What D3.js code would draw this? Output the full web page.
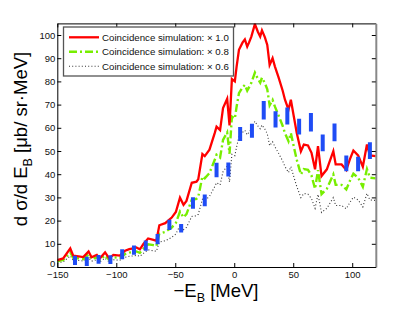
<!DOCTYPE html>
<html>
<head>
<meta charset="utf-8">
<script src="https://cdn.jsdelivr.net/npm/d3@7"></script>
<style>
  html, body { margin: 0; padding: 0; background: #fff; }
  svg { display: block; font-family: "Liberation Sans", Arial, sans-serif; }
</style>
</head>
<body>
<div id="chart"></div>
<script>
// Simulation curves (MeV, µb/sr·MeV)
const energy = [-150, -145, -139, -136.5, -132, -128, -123.5, -121, -116.5, -114,
  -109.5, -106, -102.5, -97, -92.5, -89, -85.5, -83, -80, -77,
  -73, -68.5, -66, -63.5, -58.5, -53, -49.5, -46, -43, -40.5,
  -36, -32, -30.5, -27, -25, -21, -16.5, -15, -12, -9.5,
  -6, -4, -2, 0.5, 2, 4, 7, 9, 11, 12.5,
  14.5, 17.5, 20, 22, 23.5, 26, 28, 30, 32.5, 34.5,
  37.5, 41, 43, 46, 48, 50.5, 53, 56.5, 59, 62.5,
  65.5, 68.5, 71, 74, 78.5, 84, 86, 91, 95, 98,
  101, 105, 109, 112.5, 115, 120];

const sim10 = [3.0, 3.7, 8.0, 4.9, 4.6, 4.3, 6.7, 4.2, 5.2, 3.7,
  6.3, 3.7, 5.2, 4.9, 7.0, 7.7, 8.0, 8.4, 7.6, 9.9,
  12.3, 11.7, 11.3, 18.0, 18.9, 21.3, 23.7, 29.9, 26.8, 28.5,
  36.3, 36.8, 37.8, 48.7, 47.8, 50.6, 57.8, 60.5, 59.0, 68.5,
  72.5, 61.0, 81.0, 80.0, 86.4, 93.6, 96.7, 98.1, 95.0, 96.7,
  99.3, 104.7, 101.4, 99.3, 102.0, 99.0, 95.7, 87.1, 90.0, 86.4,
  81.8, 76.1, 72.1, 67.8, 72.1, 64.9, 57.8, 49.9, 52.8, 52.4,
  49.2, 42.1, 52.1, 39.2, 42.1, 49.9, 44.2, 44.2, 41.8, 46.4,
  50.2, 48.1, 43.2, 52.8, 48.1, 47.8];

const sim08 = [2.4, 3.0, 6.4, 3.9, 3.7, 3.4, 5.4, 3.4, 4.2, 3.0,
  5.0, 3.0, 4.2, 3.9, 5.6, 6.2, 6.4, 6.7, 6.1, 7.9,
  9.8, 9.4, 9.0, 14.4, 15.1, 17.0, 19.0, 23.9, 21.4, 22.8,
  29.0, 29.4, 30.2, 39.0, 38.2, 40.5, 46.2, 48.4, 47.2, 54.8,
  58.0, 48.8, 64.8, 64.0, 69.1, 74.9, 77.4, 78.5, 76.0, 77.4,
  79.4, 83.8, 81.1, 79.4, 81.6, 79.2, 76.6, 69.7, 72.0, 69.1,
  65.4, 60.9, 57.7, 54.2, 57.7, 51.9, 46.2, 39.9, 42.2, 41.9,
  39.4, 33.7, 41.7, 31.4, 33.7, 39.9, 35.4, 35.4, 33.4, 37.1,
  40.2, 38.5, 34.6, 42.2, 38.5, 38.2];

const sim06 = [1.8, 2.2, 4.8, 2.9, 2.8, 2.6, 4.0, 2.5, 3.1, 2.2,
  3.8, 2.2, 3.1, 2.9, 4.2, 4.6, 4.8, 5.0, 4.6, 5.9,
  7.4, 7.0, 6.8, 10.8, 11.3, 12.8, 14.2, 17.9, 16.1, 17.1,
  21.8, 22.1, 22.7, 29.2, 28.7, 30.4, 34.7, 36.3, 35.4, 41.1,
  43.5, 36.6, 48.6, 48.0, 51.8, 56.2, 58.0, 58.9, 57.0, 58.0,
  59.6, 62.8, 60.8, 59.6, 61.2, 59.4, 57.4, 52.3, 54.0, 51.8,
  49.1, 45.7, 43.3, 40.7, 43.3, 38.9, 34.7, 29.9, 31.7, 31.4,
  29.5, 25.3, 31.3, 23.5, 25.3, 29.9, 26.5, 26.5, 25.1, 27.8,
  30.1, 28.9, 25.9, 31.7, 28.9, 28.7];

// Measured points with errors
const dataE = [-135, -125, -115, -105, -95, -85, -75, -65, -55, -45, -35, -25, -15,
  -5, 5, 15, 25, 35, 45, 55, 65, 75, 85, 95, 105, 115];
const dataVal = [2.9, 2.4, 3.3, 3.2, 5.5, 7.3, 9.2, 12.0, 18.2, 16.7, 27.6, 28.7, 41.8,
  42.0, 57.3, 58.7, 67.6, 63.6, 65.1, 60.5, 62.4, 53.5, 58.0, 44.7, 44.4, 50.2];
const dataErr = [2.0, 2.0, 1.9, 1.9, 2.2, 2.0, 2.2, 2.2, 2.2, 1.8, 2.5, 2.5, 3.1,
  3.0, 3.0, 3.0, 4.0, 3.5, 3.7, 3.4, 4.0, 3.6, 3.8, 3.4, 3.1, 3.6];

const xTicks = [-150, -100, -50, 0, 50, 100];
const yTicks = [0, 10, 20, 30, 40, 50, 60, 70, 80, 90, 100];
const legendLabels = ["Coincidence simulation: × 1.0", "Coincidence simulation: × 0.8", "Coincidence simulation: × 0.6"];

const width = 415;
const height = 313;
const margin = { top: 23.4, right: 39.2, bottom: 46, left: 57.3 };
const w = width - margin.left - margin.right;
const h = height - margin.top - margin.bottom;

const svg = d3.select("#chart").append("svg")
  .attr("width", width)
  .attr("height", height);

const g = svg.append("g")
  .attr("transform", `translate(${margin.left},${margin.top})`);

const x = d3.scaleLinear().domain([-150, 120]).range([0, w]);
const y = d3.scaleLinear().domain([0, 105]).range([h, 0]);

g.append("clipPath").attr("id", "clip")
  .append("rect").attr("width", w).attr("height", h);

// Curves
const styles = [
  { vals: sim10, color: "#ff0000", width: 2.3, dash: null },
  { vals: sim08, color: "#77ee00", width: 2.4, dash: "8,3,2,3" },
  { vals: sim06, color: "#333", width: 1.1, dash: "1,2.2" }
];

const line = d3.line()
  .x((d) => x(d[0]))
  .y((d) => y(d[1]));

const plot = g.append("g").attr("clip-path", "url(#clip)");

styles.slice().reverse().forEach((s) => {
  plot.append("path")
    .datum(energy.map((e, i) => [e, s.vals[i]]))
    .attr("d", line)
    .attr("fill", "none")
    .attr("stroke", s.color)
    .attr("stroke-width", s.width)
    .attr("stroke-dasharray", s.dash);
});

// Error bars
plot.selectAll(".err")
  .data(dataE)
  .enter()
  .append("line")
  .attr("class", "err")
  .attr("x1", (d) => x(d))
  .attr("x2", (d) => x(d))
  .attr("y1", (d, i) => y(dataVal[i] - dataErr[i]))
  .attr("y2", (d, i) => y(dataVal[i] + dataErr[i]))
  .attr("stroke", "#1f4cf5")
  .attr("stroke-width", 4);

// Axes
g.append("g")
  .attr("transform", `translate(0,${h})`)
  .call(d3.axisBottom(x).tickValues(xTicks).tickSizeInner(-4).tickSizeOuter(0).tickPadding(4.5));
g.append("g")
  .call(d3.axisTop(x).tickValues(xTicks).tickSizeInner(-4).tickSizeOuter(0).tickFormat(""));
const yAxis = g.append("g")
  .call(d3.axisLeft(y).tickValues(yTicks).tickSizeInner(-4).tickSizeOuter(0).tickPadding(2));
const yRight = g.append("g")
  .attr("transform", `translate(${w},0)`)
  .call(d3.axisRight(y).tickValues(yTicks).tickSizeInner(-4).tickSizeOuter(0).tickFormat(""));
yRight.select(".domain").attr("stroke", "#888").attr("stroke-width", 2);

g.selectAll(".tick text")
  .style("font-size", "9.5px")
  .style("font-family", "'Liberation Sans', Arial, sans-serif")
  .attr("fill", "#111");

// lift the "0" so it sits above "−150" like the original
yAxis.selectAll(".tick text").filter((d) => d === 0).attr("dy", "-0.05em");

// Axis labels
svg.append("text")
  .attr("x", 216)
  .attr("y", 297)
  .attr("text-anchor", "middle")
  .style("font-size", "18.5px")
  .html('−E<tspan dy="5" style="font-size:12.5px">B</tspan><tspan dy="-5"> [MeV]</tspan>');

svg.append("text")
  .attr("transform", "translate(27,139) rotate(-90)")
  .attr("text-anchor", "middle")
  .style("font-size", "18.5px")
  .html('d σ/d E<tspan dy="5" style="font-size:12.5px">B</tspan><tspan dy="-5"> [μb/ sr·MeV]</tspan>');

// Legend
const legend = svg.append("g");
legend.append("rect")
  .attr("x", 63.5)
  .attr("y", 27)
  .attr("width", 170)
  .attr("height", 49)
  .attr("fill", "#fff")
  .attr("stroke", "#555")
  .attr("stroke-width", 1.3);

styles.forEach((s, i) => {
  const ly = 37.3 + i * 14.5;
  legend.append("line")
    .attr("x1", 69).attr("x2", 99)
    .attr("y1", ly).attr("y2", ly)
    .attr("stroke", s.color)
    .attr("stroke-width", s.width)
    .attr("stroke-dasharray", s.dash);
  legend.append("text")
    .attr("x", 102)
    .attr("y", ly + 3.4)
    .style("font-size", "9.7px")
    .attr("fill", "#111")
    .text(legendLabels[i]);
});
</script>
</body>
</html>
